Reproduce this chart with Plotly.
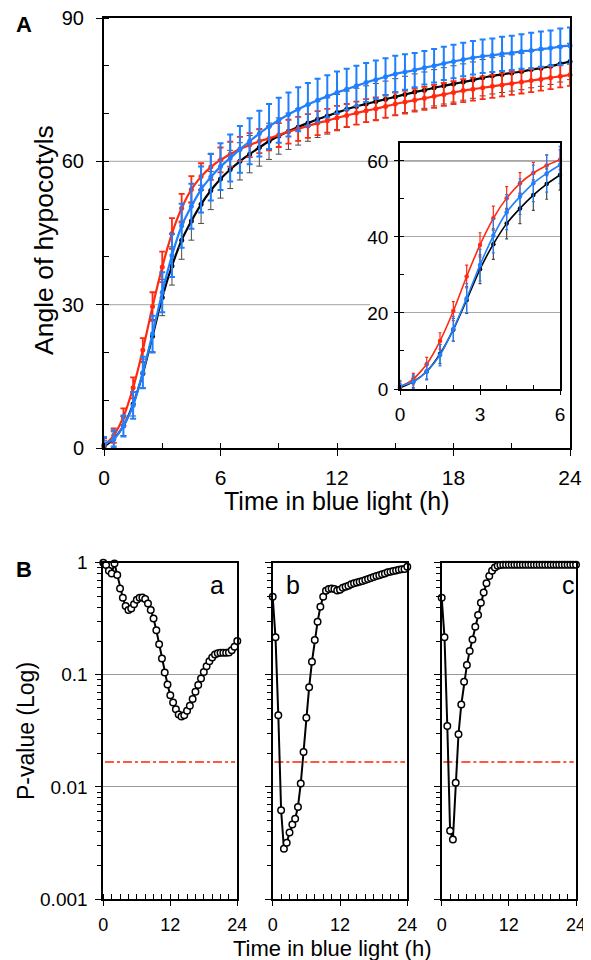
import plotly.graph_objects as go

# ---------------- data ----------------
time_h = [0, 0.5, 1, 1.5, 2, 2.5, 3, 3.5, 4, 4.5, 5, 5.5, 6, 6.5, 7, 7.5, 8, 8.5, 9, 9.5,
          10, 10.5, 11, 11.5, 12, 12.5, 13, 13.5, 14, 14.5, 15, 15.5, 16, 16.5, 17, 17.5,
          18, 18.5, 19, 19.5, 20, 20.5, 21, 21.5, 22, 22.5, 23, 23.5, 24]

angle_black = [0.3, 1.9, 4.6, 9.2, 15.6, 23.4, 31.5, 38.1, 43.5, 47.5, 51.0, 53.9, 56.3, 58.3,
               60.0, 61.5, 62.9, 64.2, 65.3, 66.3, 67.2, 68.0, 68.8, 69.5, 70.2, 70.9, 71.5,
               72.0, 72.5, 73.0, 73.5, 74.0, 74.5, 74.9, 75.4, 75.8, 76.2, 76.6, 77.0, 77.5,
               77.9, 78.2, 78.5, 78.8, 79.2, 79.5, 79.9, 80.4, 80.9]
angle_red = [0.5, 2.6, 6.5, 12.6, 20.5, 29.6, 37.9, 44.9, 50.2, 54.1, 56.8, 58.8, 60.3, 61.5,
             62.6, 63.4, 64.2, 64.8, 65.5, 66.2, 66.8, 67.4, 68.0, 68.5, 69.1, 69.6, 70.1,
             70.6, 71.0, 71.5, 72.0, 72.4, 72.8, 73.2, 73.6, 74.0, 74.4, 74.8, 75.1, 75.4,
             75.7, 76.0, 76.3, 76.6, 76.9, 77.2, 77.5, 77.8, 78.1]
angle_blue = [0.8, 1.9, 4.6, 8.9, 15.8, 23.9, 32.6, 40.3, 46.5, 50.6, 54.1, 56.7, 58.9, 60.7,
              62.5, 64.2, 65.8, 67.3, 68.6, 69.8, 70.9, 71.9, 72.8, 73.6, 74.4, 75.1, 75.8,
              76.5, 77.1, 77.7, 78.3, 78.7, 79.1, 79.6, 80.0, 80.5, 80.9, 81.3, 81.7, 82.0,
              82.2, 82.5, 82.7, 83.0, 83.2, 83.5, 83.7, 84.0, 84.2]

err_black = [1.2, 1.5, 2.0, 2.5, 3.0, 3.5, 3.8, 4.0, 4.0, 4.0, 4.0, 4.0, 4.0, 4.0, 3.9, 3.9,
             3.9, 3.8, 3.8, 3.8, 3.8, 3.8, 3.8, 3.8, 3.8, 3.8, 3.8, 3.8, 3.8, 3.8, 3.8, 3.8,
             3.8, 3.8, 3.8, 3.8, 3.8, 3.8, 3.8, 3.8, 3.8, 3.8, 3.8, 3.8, 3.8, 3.8, 3.8, 3.8, 3.8]
err_red = [1.5, 1.5, 1.8, 2.2, 2.5, 3.0, 3.2, 3.2, 3.0, 2.8, 2.8, 2.7, 2.6, 2.6, 2.5, 2.5,
           2.5, 2.5, 2.5, 2.5, 2.5, 2.5, 2.5, 2.5, 2.5, 2.4, 2.4, 2.4, 2.4, 2.4, 2.4, 2.4,
           2.4, 2.4, 2.4, 2.4, 2.4, 2.4, 2.4, 2.4, 2.4, 2.4, 2.4, 2.4, 2.4, 2.4, 2.4, 2.3, 2.3]
err_blue = [1.5, 1.8, 2.2, 2.8, 3.3, 3.8, 4.2, 4.5, 4.6, 4.7, 4.8, 4.9, 4.9, 4.9, 4.9, 4.8,
            4.8, 4.7, 4.7, 4.6, 4.6, 4.5, 4.5, 4.4, 4.4, 4.3, 4.2, 4.1, 4.0, 3.9, 3.8, 3.7,
            3.6, 3.5, 3.5, 3.5, 3.5, 3.5, 3.5, 3.5, 3.5, 3.6, 3.6, 3.6, 3.7, 3.7, 3.7, 3.8, 3.8]

pval_a = [1.0, 0.953, 0.848, 0.803, 0.986, 0.776, 0.590, 0.487, 0.410, 0.378,
          0.391, 0.425, 0.467, 0.487, 0.490, 0.474, 0.433, 0.378, 0.318, 0.250,
          0.187, 0.140, 0.105, 0.082, 0.0658, 0.0566, 0.0494, 0.0443, 0.0425, 0.0436,
          0.0477, 0.0529, 0.0607, 0.0705, 0.0809, 0.0928, 0.106, 0.119, 0.132, 0.143,
          0.152, 0.156, 0.157, 0.157, 0.157, 0.158, 0.166, 0.178, 0.200]
pval_b = [0.497, 0.216, 0.0436, 0.00619, 0.00281, 0.00318, 0.00391, 0.00461, 0.00521, 0.00663,
          0.0107, 0.0205, 0.0413, 0.0776, 0.131, 0.204, 0.297, 0.405, 0.497, 0.562,
          0.582, 0.590, 0.582, 0.566, 0.574, 0.598, 0.611, 0.623, 0.641, 0.654,
          0.667, 0.677, 0.686, 0.700, 0.715, 0.730, 0.745, 0.760, 0.771, 0.787,
          0.803, 0.820, 0.831, 0.843, 0.854, 0.866, 0.872, 0.878, 0.921]
pval_c = [0.487, 0.216, 0.0350, 0.00407, 0.00339, 0.0109, 0.0295, 0.0543, 0.0866, 0.122,
          0.163, 0.207, 0.268, 0.341, 0.440, 0.543, 0.654, 0.760, 0.848, 0.908,
          0.940, 0.955, 0.960, 0.960, 0.960, 0.960, 0.960, 0.960, 0.960, 0.960,
          0.960, 0.960, 0.960, 0.960, 0.960, 0.960, 0.960, 0.960, 0.960, 0.960,
          0.960, 0.960, 0.960, 0.960, 0.960, 0.960, 0.960, 0.960, 0.960]

threshold_p = 0.05 / 3
threshold_span = [0.3, 23.6]

a_ticks = [0, 30, 60, 90]
a_xticks = [0, 6, 12, 18, 24]
inset_xticks = [0, 3, 6]
inset_yticks = [0, 20, 40, 60]
b_xticks = [0, 12, 24]
b_yticks = [0.001, 0.01, 0.1, 1]
b_yticktext = ["0.001", "0.01", "0.1", "1"]
b_minor = [2e-3, 3e-3, 4e-3, 5e-3, 6e-3, 7e-3, 8e-3, 9e-3,
           2e-2, 3e-2, 4e-2, 5e-2, 6e-2, 7e-2, 8e-2, 9e-2,
           0.2, 0.3, 0.4, 0.5, 0.6, 0.7, 0.8, 0.9]
panel_letters = ["a", "b", "c"]

# ---------------- figure ----------------
OFF = 8                      # page body margin of the browser
W, H = 591 - OFF, 960 - OFF  # figure size that fits the window
FONT = "Liberation Sans, Arial, Helvetica, sans-serif"
RED = "#ff2a10"
BLUE = "#1f80ff"


def fx(p):
    return (p - OFF) / W


def fy(p):
    return 1 - (p - OFF) / H


fig = go.Figure()

series = [
    (angle_black, err_black, "#000000", "#4a4a4a", 1.0),
    (angle_red, err_red, RED, RED, 1.8),
    (angle_blue, err_blue, BLUE, BLUE, 2.0),
]
for vals, err, col, ecol, eth in series:
    fig.add_trace(go.Scatter(
        x=time_h, y=vals, xaxis="x", yaxis="y", mode="lines+markers",
        line=dict(color=col, width=2.2, shape="spline", smoothing=0.6),
        marker=dict(color=col, size=5),
        error_y=dict(type="data", array=err, color=ecol, thickness=eth, width=3),
        cliponaxis=False, showlegend=False, hoverinfo="skip"))

n_in = 13
for vals, err, col, ecol, eth in series:
    fig.add_trace(go.Scatter(
        x=time_h[:n_in], y=vals[:n_in], xaxis="x2", yaxis="y2", mode="lines+markers",
        line=dict(color=col, width=1.6, shape="spline", smoothing=0.6),
        marker=dict(color=col, size=4.5),
        error_y=dict(type="data", array=err[:n_in], color=ecol, thickness=1.2, width=1.5),
        cliponaxis=False, showlegend=False, hoverinfo="skip"))

for i, pv in enumerate([pval_a, pval_b, pval_c]):
    xa, ya = "x%d" % (i + 3), "y%d" % (i + 3)
    fig.add_trace(go.Scatter(
        x=threshold_span, y=[threshold_p, threshold_p], xaxis=xa, yaxis=ya, mode="lines",
        line=dict(color="#ff2200", width=1.5, dash="dashdot"),
        showlegend=False, hoverinfo="skip"))
    fig.add_trace(go.Scatter(
        x=time_h, y=pv, xaxis=xa, yaxis=ya, mode="lines+markers",
        line=dict(color="#000000", width=2),
        marker=dict(symbol="circle", size=6.5, color="white",
                    line=dict(color="#000000", width=1.5)),
        cliponaxis=False, showlegend=False, hoverinfo="skip"))

axis_common = dict(showline=True, linecolor="black", mirror=True, zeroline=False,
                   ticks="outside", tickcolor="black", showgrid=False, automargin=False,
                   ticklabeloverflow="allow",
                   tickfont=dict(family=FONT, size=20, color="black"))

layout = dict(
    template="none",
    width=W, height=H, margin=dict(l=0, r=0, t=0, b=0, autoexpand=False),
    paper_bgcolor="white", plot_bgcolor="rgba(0,0,0,0)",
    font=dict(family=FONT, color="black"),
    xaxis=dict(axis_common, domain=[fx(104), fx(570)], anchor="y", range=[0, 24],
               tickvals=a_xticks, ticklen=6, linewidth=2, ticklabelstandoff=4,
               minor=dict(dtick=3, ticks="inside", ticklen=5, tickcolor="black"),
               tickfont=dict(family=FONT, size=21, color="black")),
    yaxis=dict(axis_common, domain=[fy(448), fy(18)], anchor="x", range=[0, 90],
               tickvals=a_ticks, ticklen=6, linewidth=2, ticklabelstandoff=8,
               minor=dict(dtick=10, ticks="inside", ticklen=5, tickcolor="black"),
               tickfont=dict(family=FONT, size=20, color="black")),
    xaxis2=dict(axis_common, domain=[fx(400), fx(560)], anchor="y2", range=[0, 6],
                tickvals=inset_xticks, ticklen=4, linewidth=1.5, ticklabelstandoff=3,
                minor=dict(dtick=1, ticks="inside", ticklen=4, tickcolor="black"),
                tickfont=dict(family=FONT, size=19, color="black")),
    yaxis2=dict(axis_common, domain=[fy(389), fy(143)], anchor="x2", range=[0, 64.7],
                tickvals=inset_yticks, ticklen=4, linewidth=1.5, ticklabelstandoff=2,
                showgrid=True, gridcolor="#a8a8a8", gridwidth=1,
                minor=dict(dtick=10, ticks="inside", ticklen=4, tickcolor="black"),
                tickfont=dict(family=FONT, size=19, color="black")),
)

b_domains = [(103.3, 237.3), (272.7, 407.3), (441.7, 576.0)]
for i, (l, r) in enumerate(b_domains):
    k = i + 3
    layout["xaxis%d" % k] = dict(axis_common, domain=[fx(l), fx(r)], anchor="y%d" % k,
                                 range=[0, 24], tickvals=b_xticks, ticklen=5, linewidth=1.8,
                                 ticklabelstandoff=3,
                                 minor=dict(dtick=1.5, ticks="inside", ticklen=5,
                                            tickcolor="black"),
                                 tickfont=dict(family=FONT, size=18, color="black"))
    layout["yaxis%d" % k] = dict(axis_common, domain=[fy(899), fy(562.7)], anchor="x%d" % k,
                                 type="log", range=[-3, 0], tickvals=b_yticks,
                                 ticktext=b_yticktext, ticklen=6, linewidth=1.8,
                                 showticklabels=(i == 0), ticklabelstandoff=4,
                                 showgrid=True, gridcolor="#9a9a9a", gridwidth=1,
                                 minor=dict(tickvals=b_minor, ticks="outside", ticklen=4,
                                            tickcolor="black"),
                                 tickfont=dict(family=FONT, size=19, color="black"))

fig.update_layout(**layout)

# gridlines of the main panel A (stop before the inset)
fig.add_shape(type="line", xref="x", yref="y", x0=0, x1=13.7, y0=30, y1=30,
              line=dict(color="#b4b4b4", width=1.2), layer="below")
fig.add_shape(type="line", xref="x", yref="y", x0=0, x1=24, y0=60, y1=60,
              line=dict(color="#b4b4b4", width=1.2), layer="below")

ann = [
    dict(text="<b>A</b>", x=fx(24), y=fy(24), size=22, angle=0),
    dict(text="<b>B</b>", x=fx(23.5), y=fy(569.5), size=22, angle=0),
    dict(text="Angle of hypocotyls", x=fx(44), y=fy(240), size=26.5, angle=-90),
    dict(text="Time in blue light (h)", x=fx(337), y=fy(501), size=25, angle=0),
    dict(text="P-value (Log)", x=fx(26), y=fy(731), size=23, angle=-90),
    dict(text="Time in blue light (h)", x=fx(332), y=fy(948), size=22, angle=0),
]
for a in ann:
    fig.add_annotation(text=a["text"], x=a["x"], y=a["y"], xref="paper", yref="paper",
                       xanchor="center", yanchor="middle", showarrow=False,
                       textangle=a["angle"], font=dict(family=FONT, size=a["size"],
                                                       color="black"))

letter_pos = [(0.846, 0.934), (0.153, 0.934), (0.943, 0.934)]
for i, (lx, ly) in enumerate(letter_pos):
    k = i + 3
    fig.add_annotation(text=panel_letters[i], x=lx, y=ly, xref="x%d domain" % k,
                       yref="y%d domain" % k, xanchor="center", yanchor="middle",
                       showarrow=False, font=dict(family=FONT, size=25, color="black"))

fig.write_html("out.html")
